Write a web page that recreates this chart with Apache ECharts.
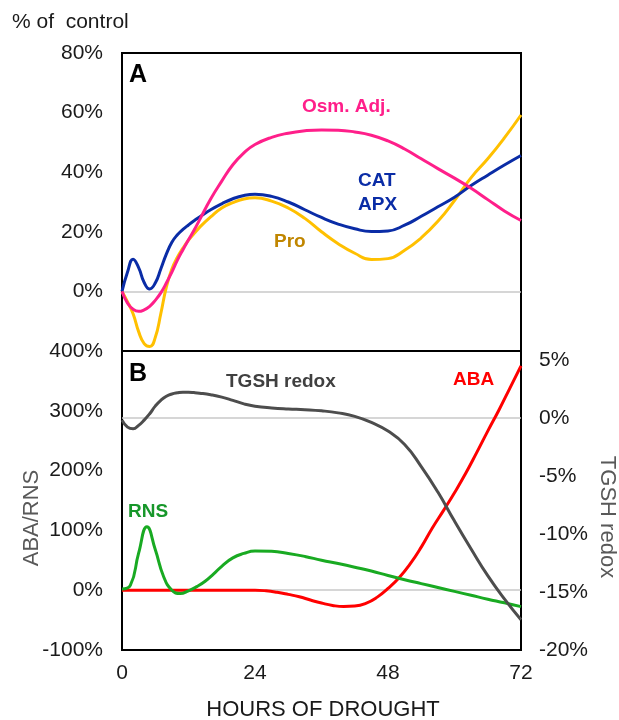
<!DOCTYPE html>
<html>
<head>
<meta charset="utf-8">
<script src="https://cdn.jsdelivr.net/npm/echarts@6/dist/echarts.min.js"></script>
<style>
  html, body { margin: 0; padding: 0; background: #fff; }
  #chart { width: 619px; height: 720px; }
</style>
</head>
<body>
<div id="chart"></div>
<script>
// Panel A: responses in % of control over hours of drought
const osmAdj = [[0,0],[1,-4],[2,-6],[3,-6.7],[4,-6.2],[5,-5],[6,-3],[7,-0.5],[8,2.8],[9,6.5],[10,10.5],[11,14],[12,17.3],[13,20.5],[14,24],[16,31],[18,37],[20,42.5],[22,46.5],[24,49.3],[27,51.7],[30,53.1],[33,53.9],[36,54.2],[39,54.1],[42,53.5],[45,52.4],[48,50.5],[51,47.8],[54,44.5],[57,41.2],[60,38],[63,34.6],[66,30.8],[69,27],[72,23.8]];
const catApx = [[0,0],[1,6.5],[2,10.8],[3,8],[4,3],[5,0.8],[6,2.8],[7,7.5],[8,12.5],[9,16.5],[10,19],[11,20.8],[12,22.3],[13,23.7],[14,25],[16,27.4],[18,29.4],[20,31.1],[22,32.2],[24,32.6],[27,31.9],[30,30],[33,27.4],[36,24.8],[39,22.6],[42,21],[45,20.1],[48,20.3],[51,22.2],[54,25.2],[57,28.4],[60,31.6],[63,35.5],[66,39],[69,42.4],[72,45.6]];
const pro = [[0,0],[1,-3.5],[2,-7.5],[3,-13.5],[4,-17.5],[5,-18.5],[6,-15.5],[7,-7.5],[8,1.4],[9,7.5],[10,11.5],[11,14.5],[12,17.2],[13,19.4],[14,21.5],[16,25],[18,28],[20,29.8],[22,31],[24,31.4],[27,30.3],[30,28],[33,24.5],[36,20],[39,16],[42,12.8],[45,10.7],[48,11],[51,13.8],[54,18],[57,23.5],[60,30.5],[63,38.2],[66,44.5],[69,51.5],[72,59.2]];

// Panel B: ABA / RNS (left axis) and TGSH redox (right axis)
const aba = [[0,0],[4,0],[8,0],[12,0],[16,0],[20,0],[22,0],[24,0],[26,-1],[28,-3.5],[30,-7],[32,-11],[34,-16.5],[36,-21.5],[38,-25.5],[40,-27.3],[42,-26.5],[44,-22],[46,-12],[48,3],[50,21],[52,44],[54,72],[56,104],[58,133],[60,163],[62,195],[64,230],[66,266],[68,301],[70,338],[72,375]];
const rns = [[0,2],[1.5,8],[3,62],[4.5,106],[6,68],[7.5,23],[9,0],[10.5,-5.5],[12,-1],[13.5,6],[15,15],[16.5,27],[18,40],[20,54],[22,61.5],[24,65.5],[27,65],[30,61.5],[33,56.5],[36,50],[39,44.5],[42,38.5],[45,32],[48,24.5],[51,17.5],[54,11],[57,4.5],[60,-2],[63,-8.5],[66,-15],[69,-21],[72,-27.5]];
const tgshRedox = [[0,-0.2],[1,-0.8],[2,-0.95],[3,-0.65],[4,-0.2],[5,0.35],[6,1.0],[7,1.5],[8,1.85],[9,2.05],[10,2.15],[11,2.2],[12,2.2],[13,2.17],[14,2.12],[16,1.98],[18,1.78],[20,1.5],[22,1.2],[24,1.0],[27,0.85],[30,0.76],[33,0.7],[36,0.6],[39,0.42],[42,0.12],[45,-0.4],[48,-1.15],[51,-2.3],[54,-4.2],[57,-6.4],[60,-8.9],[63,-11.3],[66,-13.6],[69,-15.6],[72,-17.4]];

// Axis ticks
const hourTicks = [0, 24, 48, 72];
const topTicks = [-20, 0, 20, 40, 60, 80];
const leftTicks = [-100, 0, 100, 200, 300, 400];
const rightTicks = [-20, -15, -10, -5, 0, 5];

const FONT = '"Liberation Sans", Arial, Helvetica, sans-serif';
const TICK_COLOR = '#1a1a1a';
const GRID_GRAY = '#c8c8c8';
const CLEAR = 'rgba(0,0,0,0)';

// one visible split line (the zero level), all others transparent
function zeroLineColors(ticks) {
  return ticks.map(v => (v === 0 ? GRID_GRAY : CLEAR)).concat([CLEAR]);
}

function lineSeries(name, data, color, xi, yi) {
  return {
    name, type: 'line', data,
    xAxisIndex: xi, yAxisIndex: yi,
    smooth: 0.5, showSymbol: false, symbol: 'none',
    lineStyle: { color, width: 3 },
    itemStyle: { color },
    z: 3, animation: false
  };
}

function label(text, x, y, color, size, weight) {
  return {
    type: 'text', x, y, z: 10,
    style: {
      text, fill: color, fontFamily: FONT,
      fontSize: size || 19, fontWeight: weight || 'bold',
      align: 'left', verticalAlign: 'middle'
    }
  };
}

function vText(text, x, y, rotation) {
  return {
    type: 'text', x, y, rotation, z: 10,
    style: { text, fill: '#595959', fontFamily: FONT, fontSize: 22, align: 'center', verticalAlign: 'middle' }
  };
}

const chart = echarts.init(document.getElementById('chart'), null, { renderer: 'canvas' });

chart.setOption({
  animation: false,
  backgroundColor: '#fff',
  grid: [
    { left: 122, top: 53, width: 399, height: 298, show: true, borderColor: '#000', borderWidth: 2, backgroundColor: CLEAR },
    { left: 122, top: 351, width: 399, height: 299, show: true, borderColor: '#000', borderWidth: 2, backgroundColor: CLEAR }
  ],
  xAxis: [
    { gridIndex: 0, type: 'value', min: hourTicks[0], max: hourTicks[hourTicks.length - 1], interval: 24,
      axisLine: { show: false }, axisTick: { show: false }, axisLabel: { show: false }, splitLine: { show: false } },
    { gridIndex: 1, type: 'value', min: hourTicks[0], max: hourTicks[hourTicks.length - 1], interval: 24,
      axisLine: { show: false }, axisTick: { show: false }, splitLine: { show: false },
      axisLabel: { fontFamily: FONT, fontSize: 21, color: TICK_COLOR, margin: 13 } }
  ],
  yAxis: [
    { gridIndex: 0, type: 'value', min: topTicks[0], max: topTicks[topTicks.length - 1], interval: 20,
      axisLine: { show: false }, axisTick: { show: false },
      axisLabel: { fontFamily: FONT, fontSize: 21, color: TICK_COLOR, margin: 19,
        formatter: v => (v === topTicks[0] ? '' : v + '%') },
      splitLine: { show: true, lineStyle: { color: zeroLineColors(topTicks), width: 1.5 } } },
    { gridIndex: 1, type: 'value', min: leftTicks[0], max: leftTicks[leftTicks.length - 1], interval: 100,
      axisLine: { show: false }, axisTick: { show: false },
      axisLabel: { fontFamily: FONT, fontSize: 21, color: TICK_COLOR, margin: 19, formatter: v => v + '%' },
      splitLine: { show: true, lineStyle: { color: zeroLineColors(leftTicks), width: 1.5 } } },
    { gridIndex: 1, type: 'value', position: 'right', min: rightTicks[0], max: 5.75, interval: 5,
      axisLine: { show: false }, axisTick: { show: false },
      axisLabel: { fontFamily: FONT, fontSize: 21, color: TICK_COLOR, margin: 18,
        formatter: v => (rightTicks.indexOf(v) >= 0 ? v + '%' : '') },
      splitLine: { show: true, lineStyle: { color: zeroLineColors(rightTicks), width: 1.5 } } }
  ],
  series: [
    lineSeries('Pro', pro, '#FFC000', 0, 0),
    lineSeries('CAT APX', catApx, '#0A2CA6', 0, 0),
    lineSeries('Osm. Adj.', osmAdj, '#FF1F8A', 0, 0),
    lineSeries('ABA', aba, '#FF0000', 1, 1),
    lineSeries('RNS', rns, '#19AA22', 1, 1),
    lineSeries('TGSH redox', tgshRedox, '#4D4D4D', 1, 2)
  ],
  graphic: [
    label('% of  control', 12, 22, TICK_COLOR, 21, 'normal'),
    label('A', 129, 75, '#000', 25),
    label('B', 129, 374, '#000', 25),
    label('Osm. Adj.', 302, 107, '#FF1F8A'),
    label('CAT', 358, 181, '#0A2CA6'),
    label('APX', 358, 205, '#0A2CA6'),
    label('Pro', 274, 242, '#C08600'),
    label('TGSH redox', 226, 382, '#404040'),
    label('ABA', 453, 380, '#FF0000'),
    label('RNS', 128, 512, '#17972A'),
    vText('ABA/RNS', 32, 518, Math.PI / 2),
    vText('TGSH redox', 607, 517, -Math.PI / 2),
    { type: 'text', x: 323, y: 710, z: 10,
      style: { text: 'HOURS OF DROUGHT', fill: TICK_COLOR, fontFamily: FONT, fontSize: 22, align: 'center', verticalAlign: 'middle' } }
  ]
});
</script>
</body>
</html>
